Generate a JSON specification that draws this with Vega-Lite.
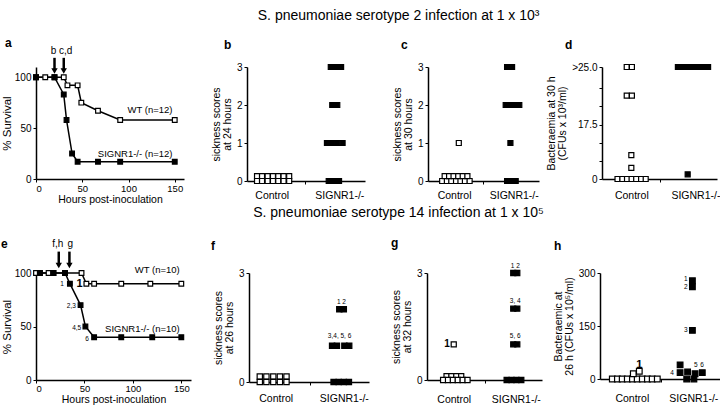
{
  "$schema": "https://vega.github.io/schema/vega-lite/v6.json",
  "background": "white",
  "padding": {"left": 1, "top": 8, "right": 0, "bottom": 0},
  "spacing": 1,
  "datasets": {
    "survA": [
      {"s": "WT", "x": 0, "y": 100}, {"s": "WT", "x": 10, "y": 100}, {"s": "WT", "x": 20, "y": 100}, {"s": "WT", "x": 30, "y": 100},
      {"s": "WT", "x": 34, "y": 92}, {"s": "WT", "x": 45, "y": 92}, {"s": "WT", "x": 49, "y": 75}, {"s": "WT", "x": 67, "y": 67},
      {"s": "WT", "x": 91, "y": 58}, {"s": "WT", "x": 150, "y": 58},
      {"s": "SIGNR1-/-", "x": 0, "y": 100}, {"s": "SIGNR1-/-", "x": 20, "y": 100}, {"s": "SIGNR1-/-", "x": 30, "y": 83},
      {"s": "SIGNR1-/-", "x": 33, "y": 58}, {"s": "SIGNR1-/-", "x": 39, "y": 25}, {"s": "SIGNR1-/-", "x": 45, "y": 17},
      {"s": "SIGNR1-/-", "x": 67, "y": 17}, {"s": "SIGNR1-/-", "x": 91, "y": 17}, {"s": "SIGNR1-/-", "x": 150, "y": 17}
    ],
    "survE": [
      {"s": "WT", "x": 0, "y": 100}, {"s": "WT", "x": 4, "y": 100}, {"s": "WT", "x": 13, "y": 100}, {"s": "WT", "x": 18, "y": 100},
      {"s": "WT", "x": 30, "y": 100}, {"s": "WT", "x": 47, "y": 100}, {"s": "WT", "x": 52, "y": 90}, {"s": "WT", "x": 60, "y": 90},
      {"s": "WT", "x": 88, "y": 90}, {"s": "WT", "x": 118, "y": 90}, {"s": "WT", "x": 150, "y": 90},
      {"s": "SIGNR1-/-", "x": 4, "y": 100}, {"s": "SIGNR1-/-", "x": 18, "y": 100}, {"s": "SIGNR1-/-", "x": 30, "y": 100},
      {"s": "SIGNR1-/-", "x": 35, "y": 90}, {"s": "SIGNR1-/-", "x": 46, "y": 70}, {"s": "SIGNR1-/-", "x": 51, "y": 50},
      {"s": "SIGNR1-/-", "x": 60, "y": 40}, {"s": "SIGNR1-/-", "x": 88, "y": 40}, {"s": "SIGNR1-/-", "x": 120, "y": 40},
      {"s": "SIGNR1-/-", "x": 150, "y": 40}
    ],
    "arrows": [
      {"p": "a", "x": 20, "y": 119, "y2": 106},
      {"p": "a", "x": 30, "y": 119, "y2": 106},
      {"p": "e", "x": 23.5, "y": 120, "y2": 107},
      {"p": "e", "x": 34.5, "y": 120, "y2": 107}
    ],
    "arrowLabels": [
      {"p": "a", "x": 19, "y": 121, "t": "b"},
      {"p": "a", "x": 32, "y": 121, "t": "c,d"},
      {"p": "e", "x": 22.5, "y": 122, "t": "f,h"},
      {"p": "e", "x": 35.5, "y": 122, "t": "g"}
    ],
    "notes": [
      {"p": "a", "k": "lab", "x": 147.6, "y": 67.6, "t": "WT (n=12)"},
      {"p": "a", "k": "lab", "x": 147.6, "y": 24.4, "t": "SIGNR1-/- (n=12)"},
      {"p": "e", "k": "lab", "x": 148.4, "y": 103, "t": "WT (n=10)"},
      {"p": "e", "k": "lab", "x": 148.4, "y": 48, "t": "SIGNR1-/- (n=10)"},
      {"p": "e", "k": "small", "x": 26.8, "y": 89.6, "t": "1"},
      {"p": "e", "k": "small", "x": 36.5, "y": 69.5, "t": "2,3"},
      {"p": "e", "k": "small", "x": 42, "y": 48.7, "t": "4,5"},
      {"p": "e", "k": "small", "x": 52.6, "y": 38.7, "t": "6"},
      {"p": "e", "k": "bold", "x": 45, "y": 90, "t": "1"},
      {"p": "f", "k": "small", "x": 3.08, "y": 2.2, "t": "1  2"},
      {"p": "f", "k": "small", "x": 3.02, "y": 1.26, "t": "3,4, 5, 6"},
      {"p": "g", "k": "small", "x": 3.07, "y": 3.19, "t": "1  2"},
      {"p": "g", "k": "small", "x": 3.07, "y": 2.22, "t": "3, 4"},
      {"p": "g", "k": "small", "x": 3.07, "y": 1.24, "t": "5, 6"},
      {"p": "g", "k": "bold", "x": 0.7, "y": 1.0, "t": "1"},
      {"p": "h", "k": "small", "x": 2.86, "y": 282, "t": "1"},
      {"p": "h", "k": "small", "x": 2.86, "y": 259, "t": "2"},
      {"p": "h", "k": "small", "x": 2.86, "y": 137.6, "t": "3"},
      {"p": "h", "k": "small", "x": 2.4, "y": 18, "t": "4"},
      {"p": "h", "k": "small", "x": 3.19, "y": 41, "t": "5"},
      {"p": "h", "k": "small", "x": 3.4, "y": 41, "t": "6"},
      {"p": "h", "k": "bold", "x": 1.31, "y": 39, "t": "1"}
    ],
    "pts": [
      {"p": "b", "s": "Control", "x": 0.34, "y": 0.13}, {"p": "b", "s": "Control", "x": 0.51, "y": 0.13}, {"p": "b", "s": "Control", "x": 0.7, "y": 0.13},
      {"p": "b", "s": "Control", "x": 0.88, "y": 0.13}, {"p": "b", "s": "Control", "x": 1.06, "y": 0.13}, {"p": "b", "s": "Control", "x": 1.24, "y": 0.13},
      {"p": "b", "s": "Control", "x": 1.43, "y": 0.13},
      {"p": "b", "s": "Control", "x": 0.34, "y": 0}, {"p": "b", "s": "Control", "x": 0.51, "y": 0}, {"p": "b", "s": "Control", "x": 0.7, "y": 0},
      {"p": "b", "s": "Control", "x": 0.88, "y": 0}, {"p": "b", "s": "Control", "x": 1.06, "y": 0}, {"p": "b", "s": "Control", "x": 1.24, "y": 0},
      {"p": "b", "s": "Control", "x": 1.43, "y": 0},
      {"p": "b", "s": "SIGNR1-/-", "x": 2.84, "y": 3}, {"p": "b", "s": "SIGNR1-/-", "x": 3.02, "y": 3}, {"p": "b", "s": "SIGNR1-/-", "x": 3.19, "y": 3},
      {"p": "b", "s": "SIGNR1-/-", "x": 2.89, "y": 2}, {"p": "b", "s": "SIGNR1-/-", "x": 3.06, "y": 2},
      {"p": "b", "s": "SIGNR1-/-", "x": 2.71, "y": 1}, {"p": "b", "s": "SIGNR1-/-", "x": 2.89, "y": 1}, {"p": "b", "s": "SIGNR1-/-", "x": 3.06, "y": 1},
      {"p": "b", "s": "SIGNR1-/-", "x": 3.24, "y": 1},
      {"p": "b", "s": "SIGNR1-/-", "x": 2.77, "y": 0}, {"p": "b", "s": "SIGNR1-/-", "x": 2.95, "y": 0}, {"p": "b", "s": "SIGNR1-/-", "x": 3.12, "y": 0},

      {"p": "c", "s": "Control", "x": 0.51, "y": 0}, {"p": "c", "s": "Control", "x": 0.68, "y": 0}, {"p": "c", "s": "Control", "x": 0.84, "y": 0},
      {"p": "c", "s": "Control", "x": 1.01, "y": 0}, {"p": "c", "s": "Control", "x": 1.17, "y": 0}, {"p": "c", "s": "Control", "x": 1.33, "y": 0},
      {"p": "c", "s": "Control", "x": 1.5, "y": 0},
      {"p": "c", "s": "Control", "x": 0.6, "y": 0.13}, {"p": "c", "s": "Control", "x": 0.76, "y": 0.13}, {"p": "c", "s": "Control", "x": 0.92, "y": 0.13},
      {"p": "c", "s": "Control", "x": 1.09, "y": 0.13}, {"p": "c", "s": "Control", "x": 1.25, "y": 0.13}, {"p": "c", "s": "Control", "x": 1.42, "y": 0.13},
      {"p": "c", "s": "Control", "x": 1.11, "y": 1},
      {"p": "c", "s": "SIGNR1-/-", "x": 2.85, "y": 3}, {"p": "c", "s": "SIGNR1-/-", "x": 3.03, "y": 3},
      {"p": "c", "s": "SIGNR1-/-", "x": 2.8, "y": 2}, {"p": "c", "s": "SIGNR1-/-", "x": 2.96, "y": 2}, {"p": "c", "s": "SIGNR1-/-", "x": 3.12, "y": 2},
      {"p": "c", "s": "SIGNR1-/-", "x": 3.29, "y": 2},
      {"p": "c", "s": "SIGNR1-/-", "x": 2.97, "y": 1},
      {"p": "c", "s": "SIGNR1-/-", "x": 2.85, "y": 0}, {"p": "c", "s": "SIGNR1-/-", "x": 3.01, "y": 0}, {"p": "c", "s": "SIGNR1-/-", "x": 3.16, "y": 0},

      {"p": "d", "s": "Control", "x": 0.86, "y": 36}, {"p": "d", "s": "Control", "x": 1.04, "y": 36},
      {"p": "d", "s": "Control", "x": 0.86, "y": 26.8}, {"p": "d", "s": "Control", "x": 1.04, "y": 26.8},
      {"p": "d", "s": "Control", "x": 1.02, "y": 7.7}, {"p": "d", "s": "Control", "x": 1.02, "y": 3.6},
      {"p": "d", "s": "Control", "x": 0.54, "y": 0}, {"p": "d", "s": "Control", "x": 0.71, "y": 0}, {"p": "d", "s": "Control", "x": 0.87, "y": 0},
      {"p": "d", "s": "Control", "x": 1.03, "y": 0}, {"p": "d", "s": "Control", "x": 1.19, "y": 0}, {"p": "d", "s": "Control", "x": 1.36, "y": 0},
      {"p": "d", "s": "Control", "x": 1.52, "y": 0},
      {"p": "d", "s": "SIGNR1-/-", "x": 2.64, "y": 36}, {"p": "d", "s": "SIGNR1-/-", "x": 2.81, "y": 36}, {"p": "d", "s": "SIGNR1-/-", "x": 2.99, "y": 36},
      {"p": "d", "s": "SIGNR1-/-", "x": 3.16, "y": 36}, {"p": "d", "s": "SIGNR1-/-", "x": 3.33, "y": 36}, {"p": "d", "s": "SIGNR1-/-", "x": 3.51, "y": 36},
      {"p": "d", "s": "SIGNR1-/-", "x": 3.69, "y": 36},
      {"p": "d", "s": "SIGNR1-/-", "x": 2.98, "y": 1.5},

      {"p": "f", "s": "Control", "x": 0.36, "y": 0.15}, {"p": "f", "s": "Control", "x": 0.58, "y": 0.15}, {"p": "f", "s": "Control", "x": 0.81, "y": 0.15},
      {"p": "f", "s": "Control", "x": 1.03, "y": 0.15}, {"p": "f", "s": "Control", "x": 1.25, "y": 0.15},
      {"p": "f", "s": "Control", "x": 0.36, "y": 0}, {"p": "f", "s": "Control", "x": 0.58, "y": 0}, {"p": "f", "s": "Control", "x": 0.81, "y": 0},
      {"p": "f", "s": "Control", "x": 1.03, "y": 0}, {"p": "f", "s": "Control", "x": 1.25, "y": 0},
      {"p": "f", "s": "SIGNR1-/-", "x": 3.01, "y": 2}, {"p": "f", "s": "SIGNR1-/-", "x": 3.16, "y": 2},
      {"p": "f", "s": "SIGNR1-/-", "x": 2.77, "y": 1}, {"p": "f", "s": "SIGNR1-/-", "x": 2.93, "y": 1}, {"p": "f", "s": "SIGNR1-/-", "x": 3.18, "y": 1},
      {"p": "f", "s": "SIGNR1-/-", "x": 3.34, "y": 1},
      {"p": "f", "s": "SIGNR1-/-", "x": 2.82, "y": 0}, {"p": "f", "s": "SIGNR1-/-", "x": 2.99, "y": 0}, {"p": "f", "s": "SIGNR1-/-", "x": 3.16, "y": 0},
      {"p": "f", "s": "SIGNR1-/-", "x": 3.33, "y": 0},

      {"p": "g", "s": "Control", "x": 0.93, "y": 1},
      {"p": "g", "s": "Control", "x": 0.68, "y": 0.11}, {"p": "g", "s": "Control", "x": 0.85, "y": 0.11}, {"p": "g", "s": "Control", "x": 1.02, "y": 0.11},
      {"p": "g", "s": "Control", "x": 1.19, "y": 0.11},
      {"p": "g", "s": "Control", "x": 0.56, "y": 0}, {"p": "g", "s": "Control", "x": 0.73, "y": 0}, {"p": "g", "s": "Control", "x": 0.9, "y": 0},
      {"p": "g", "s": "Control", "x": 1.07, "y": 0}, {"p": "g", "s": "Control", "x": 1.24, "y": 0}, {"p": "g", "s": "Control", "x": 1.41, "y": 0},
      {"p": "g", "s": "SIGNR1-/-", "x": 3.0, "y": 3}, {"p": "g", "s": "SIGNR1-/-", "x": 3.14, "y": 3},
      {"p": "g", "s": "SIGNR1-/-", "x": 3.0, "y": 2}, {"p": "g", "s": "SIGNR1-/-", "x": 3.14, "y": 2},
      {"p": "g", "s": "SIGNR1-/-", "x": 3.0, "y": 1}, {"p": "g", "s": "SIGNR1-/-", "x": 3.14, "y": 1},
      {"p": "g", "s": "SIGNR1-/-", "x": 2.77, "y": 0}, {"p": "g", "s": "SIGNR1-/-", "x": 2.94, "y": 0}, {"p": "g", "s": "SIGNR1-/-", "x": 3.11, "y": 0},
      {"p": "g", "s": "SIGNR1-/-", "x": 3.28, "y": 0},

      {"p": "h", "s": "Control", "x": 0.41, "y": 0}, {"p": "h", "s": "Control", "x": 0.58, "y": 0}, {"p": "h", "s": "Control", "x": 0.74, "y": 0},
      {"p": "h", "s": "Control", "x": 0.91, "y": 0}, {"p": "h", "s": "Control", "x": 1.08, "y": 0}, {"p": "h", "s": "Control", "x": 1.24, "y": 0},
      {"p": "h", "s": "Control", "x": 1.41, "y": 0}, {"p": "h", "s": "Control", "x": 1.58, "y": 0}, {"p": "h", "s": "Control", "x": 1.74, "y": 0},
      {"p": "h", "s": "Control", "x": 1.91, "y": 0},
      {"p": "h", "s": "Control", "x": 1.11, "y": 15}, {"p": "h", "s": "Control", "x": 1.31, "y": 22},
      {"p": "h", "s": "SIGNR1-/-", "x": 3.08, "y": 278}, {"p": "h", "s": "SIGNR1-/-", "x": 3.08, "y": 261}, {"p": "h", "s": "SIGNR1-/-", "x": 3.08, "y": 137.6},
      {"p": "h", "s": "SIGNR1-/-", "x": 2.67, "y": 40}, {"p": "h", "s": "SIGNR1-/-", "x": 2.67, "y": 18}, {"p": "h", "s": "SIGNR1-/-", "x": 2.92, "y": 20},
      {"p": "h", "s": "SIGNR1-/-", "x": 3.17, "y": 15}, {"p": "h", "s": "SIGNR1-/-", "x": 3.41, "y": 18},
      {"p": "h", "s": "SIGNR1-/-", "x": 2.89, "y": 0}, {"p": "h", "s": "SIGNR1-/-", "x": 3.13, "y": 0}
    ]
  },
  "vconcat": [
    {
      "title": {"text": "S. pneumoniae serotype 2 infection at 1 x 10³", "fontSize": 14, "fontWeight": "normal", "anchor": "middle", "dx": 38, "offset": 14},
      "bounds": "flush",
      "spacing": 63,
      "resolve": {"scale": {"x": "independent", "y": "independent"}},
      "hconcat": [
        {
          "width": 148, "height": 112,
          "title": {"text": "a", "anchor": "start", "frame": "group", "dx": -31, "dy": -4, "offset": -8, "fontSize": 12, "fontWeight": "bold"},
          "layer": [
            {"data": {"name": "survA"}, "mark": {"type": "line", "color": "black", "strokeWidth": 1.5},
             "encoding": {
               "x": {"field": "x", "type": "quantitative", "scale": {"domain": [0, 150]}, "axis": {"values": [0, 50, 100, 150], "title": "Hours post-inoculation", "labelFontSize": 9.5, "labelPadding": 1, "titlePadding": 2}},
               "y": {"field": "y", "type": "quantitative", "scale": {"domain": [0, 103.7]}, "axis": {"values": [0, 50, 100], "title": "% Survival", "titleFontSize": 11.5, "titlePadding": 2}},
               "detail": {"field": "s"}}},
            {"data": {"name": "survA"}, "mark": {"type": "point", "shape": "square", "filled": true, "size": 22, "stroke": "black", "strokeWidth": 1.2, "opacity": 1},
             "encoding": {
               "x": {"field": "x", "type": "quantitative"}, "y": {"field": "y", "type": "quantitative"},
               "fill": {"field": "s", "type": "nominal", "scale": {"domain": ["WT", "Control", "SIGNR1-/-"], "range": ["white", "white", "black"]}, "legend": null}}},
            {"data": {"name": "notes"}, "transform": [{"filter": "datum.p == 'a'"}], "mark": {"type": "text", "align": "right", "baseline": "middle", "fontSize": 9.5},
             "encoding": {"x": {"field": "x", "type": "quantitative"}, "y": {"field": "y", "type": "quantitative"}, "text": {"field": "t"}}},
            {"data": {"name": "arrows"}, "transform": [{"filter": "datum.p == 'a'"}], "mark": {"type": "rule", "color": "black", "strokeWidth": 2.5},
             "encoding": {"x": {"field": "x", "type": "quantitative"}, "y": {"field": "y", "type": "quantitative"}, "y2": {"field": "y2"}}},
            {"data": {"name": "arrows"}, "transform": [{"filter": "datum.p == 'a'"}], "mark": {"type": "point", "shape": "triangle-down", "filled": true, "color": "black", "size": 40, "opacity": 1},
             "encoding": {"x": {"field": "x", "type": "quantitative"}, "y": {"field": "y2", "type": "quantitative"}}},
            {"data": {"name": "arrowLabels"}, "transform": [{"filter": "datum.p == 'a'"}], "mark": {"type": "text", "baseline": "bottom", "fontSize": 10},
             "encoding": {"x": {"field": "x", "type": "quantitative"}, "y": {"field": "y", "type": "quantitative"}, "text": {"field": "t"}}}
          ]
        },
        {
          "width": 118, "height": 114,
          "title": {"text": "b", "anchor": "start", "frame": "group", "dx": -23, "offset": 10, "fontSize": 12, "fontWeight": "bold"},
          "data": {"name": "pts"},
          "transform": [{"filter": "datum.p == 'b'"}],
          "mark": {"type": "point", "shape": "square", "filled": true, "size": 25, "stroke": "black", "strokeWidth": 1.2, "opacity": 1},
          "encoding": {
            "x": {"field": "x", "type": "quantitative", "scale": {"domain": [0, 4]}, "axis": {"values": [0.84, 1.95, 3.13], "labelExpr": "datum.value < 1.5 ? 'Control' : datum.value > 2.5 ? 'SIGNR1-/-' : ''", "title": null, "labelPadding": 6, "labelFontSize": 10.5, "tickOpacity": {"condition": {"test": "datum.value < 1.5 || datum.value > 2.5", "value": 0}, "value": 1}}},
            "y": {"field": "y", "type": "quantitative", "scale": {"domain": [0, 3]}, "axis": {"values": [0, 1, 2, 3], "title": ["sickness scores", "at 24 hours"]}},
            "fill": {"field": "s", "type": "nominal", "scale": {"domain": ["WT", "Control", "SIGNR1-/-"], "range": ["white", "white", "black"]}, "legend": null}
          }
        },
        {
          "width": 111, "height": 114,
          "title": {"text": "c", "anchor": "start", "frame": "group", "dx": -27, "offset": 10, "fontSize": 12, "fontWeight": "bold"},
          "data": {"name": "pts"},
          "transform": [{"filter": "datum.p == 'c'"}],
          "mark": {"type": "point", "shape": "square", "filled": true, "size": 25, "stroke": "black", "strokeWidth": 1.2, "opacity": 1},
          "encoding": {
            "x": {"field": "x", "type": "quantitative", "scale": {"domain": [0, 4]}, "axis": {"values": [0.94, 1.98, 3.09], "labelExpr": "datum.value < 1.5 ? 'Control' : datum.value > 2.5 ? 'SIGNR1-/-' : ''", "title": null, "labelPadding": 6, "labelFontSize": 10.5, "tickOpacity": {"condition": {"test": "datum.value < 1.5 || datum.value > 2.5", "value": 0}, "value": 1}}},
            "y": {"field": "y", "type": "quantitative", "scale": {"domain": [0, 3]}, "axis": {"values": [0, 1, 2, 3], "title": ["sickness scores", "at 30 hours"]}},
            "fill": {"field": "s", "type": "nominal", "scale": {"domain": ["WT", "Control", "SIGNR1-/-"], "range": ["white", "white", "black"]}, "legend": null}
          }
        },
        {
          "width": 115, "height": 112,
          "title": {"text": "d", "anchor": "start", "frame": "group", "dx": -37, "offset": 10, "fontSize": 12, "fontWeight": "bold"},
          "data": {"name": "pts"},
          "transform": [{"filter": "datum.p == 'd'"}],
          "mark": {"type": "point", "shape": "square", "filled": true, "size": 25, "stroke": "black", "strokeWidth": 1.2, "opacity": 1},
          "encoding": {
            "x": {"field": "x", "type": "quantitative", "scale": {"domain": [0, 4]}, "axis": {"values": [1.02, 2.03, 3.25], "labelExpr": "datum.value < 1.5 ? 'Control' : datum.value > 2.5 ? 'SIGNR1-/-' : ''", "title": null, "labelPadding": 8, "labelFontSize": 10.5, "tickOpacity": {"condition": {"test": "datum.value < 1.5 || datum.value > 2.5", "value": 0}, "value": 1}}},
            "y": {"field": "y", "type": "quantitative", "scale": {"domain": [0, 36]}, "axis": {"values": [0, 5.83, 11.67, 17.5, 23.33, 29.17, 36], "labelExpr": "datum.value == 0 ? '0' : datum.value == 17.5 ? '17.5' : datum.value == 36 ? '>25.0' : ''", "title": ["Bacteraemia at 30 h", "(CFUs x 10³/ml)"]}},
            "fill": {"field": "s", "type": "nominal", "scale": {"domain": ["WT", "Control", "SIGNR1-/-"], "range": ["white", "white", "black"]}, "legend": null}
          }
        }
      ]
    },
    {
      "title": {"text": "S. pneumoniae serotype 14 infection at 1 x 10⁵", "fontSize": 14, "fontWeight": "normal", "anchor": "middle", "dx": 38, "offset": 17},
      "bounds": "flush",
      "spacing": 58,
      "resolve": {"scale": {"x": "independent", "y": "independent"}},
      "hconcat": [
        {
          "width": 155, "height": 107,
          "title": {"text": "e", "anchor": "start", "frame": "group", "dx": -35, "offset": -12, "fontSize": 12, "fontWeight": "bold"},
          "layer": [
            {"data": {"name": "survE"}, "mark": {"type": "line", "color": "black", "strokeWidth": 1.5},
             "encoding": {
               "x": {"field": "x", "type": "quantitative", "scale": {"domain": [0, 150]}, "axis": {"values": [0, 50, 100, 150], "title": "Hours post-inoculation", "labelFontSize": 9.5, "labelPadding": 0, "titlePadding": 2}},
               "y": {"field": "y", "type": "quantitative", "scale": {"domain": [0, 100]}, "axis": {"values": [0, 50, 100], "title": "% Survival", "titleFontSize": 11.5, "titlePadding": 2}},
               "detail": {"field": "s"}}},
            {"data": {"name": "survE"}, "mark": {"type": "point", "shape": "square", "filled": true, "size": 22, "stroke": "black", "strokeWidth": 1.2, "opacity": 1},
             "encoding": {
               "x": {"field": "x", "type": "quantitative"}, "y": {"field": "y", "type": "quantitative"},
               "fill": {"field": "s", "type": "nominal", "scale": {"domain": ["WT", "Control", "SIGNR1-/-"], "range": ["white", "white", "black"]}, "legend": null}}},
            {"data": {"name": "notes"}, "transform": [{"filter": "datum.p == 'e' && datum.k == 'lab'"}], "mark": {"type": "text", "align": "right", "baseline": "middle", "fontSize": 9.5},
             "encoding": {"x": {"field": "x", "type": "quantitative"}, "y": {"field": "y", "type": "quantitative"}, "text": {"field": "t"}}},
            {"data": {"name": "notes"}, "transform": [{"filter": "datum.p == 'e' && datum.k == 'small'"}], "mark": {"type": "text", "align": "center", "baseline": "middle", "fontSize": 6.5},
             "encoding": {"x": {"field": "x", "type": "quantitative"}, "y": {"field": "y", "type": "quantitative"}, "text": {"field": "t"}}},
            {"data": {"name": "notes"}, "transform": [{"filter": "datum.p == 'e' && datum.k == 'bold'"}], "mark": {"type": "text", "align": "center", "baseline": "middle", "fontSize": 11, "fontWeight": "bold"},
             "encoding": {"x": {"field": "x", "type": "quantitative"}, "y": {"field": "y", "type": "quantitative"}, "text": {"field": "t"}}},
            {"data": {"name": "arrows"}, "transform": [{"filter": "datum.p == 'e'"}], "mark": {"type": "rule", "color": "black", "strokeWidth": 2.5},
             "encoding": {"x": {"field": "x", "type": "quantitative"}, "y": {"field": "y", "type": "quantitative"}, "y2": {"field": "y2"}}},
            {"data": {"name": "arrows"}, "transform": [{"filter": "datum.p == 'e'"}], "mark": {"type": "point", "shape": "triangle-down", "filled": true, "color": "black", "size": 40, "opacity": 1},
             "encoding": {"x": {"field": "x", "type": "quantitative"}, "y": {"field": "y2", "type": "quantitative"}}},
            {"data": {"name": "arrowLabels"}, "transform": [{"filter": "datum.p == 'e'"}], "mark": {"type": "text", "baseline": "bottom", "fontSize": 10},
             "encoding": {"x": {"field": "x", "type": "quantitative"}, "y": {"field": "y", "type": "quantitative"}, "text": {"field": "t"}}}
          ]
        },
        {
          "width": 120, "height": 109,
          "title": {"text": "f", "anchor": "start", "frame": "group", "dx": -38, "offset": 15, "fontSize": 12, "fontWeight": "bold"},
          "layer": [
            {"data": {"name": "pts"}, "transform": [{"filter": "datum.p == 'f'"}],
             "mark": {"type": "point", "shape": "square", "filled": true, "size": 28, "stroke": "black", "strokeWidth": 1.2, "opacity": 1},
             "encoding": {
               "x": {"field": "x", "type": "quantitative", "scale": {"domain": [0, 4]}, "axis": {"values": [0.89, 2.02, 3.16], "labelExpr": "datum.value < 1.5 ? 'Control' : datum.value > 2.5 ? 'SIGNR1-/-' : ''", "title": null, "labelPadding": 8, "labelFontSize": 10.5, "tickOpacity": {"condition": {"test": "datum.value < 1.5 || datum.value > 2.5", "value": 0}, "value": 1}}},
               "y": {"field": "y", "type": "quantitative", "scale": {"domain": [0, 3]}, "axis": {"values": [0, 1, 2, 3], "title": ["sickness scores", "at 26 hours"]}},
               "fill": {"field": "s", "type": "nominal", "scale": {"domain": ["WT", "Control", "SIGNR1-/-"], "range": ["white", "white", "black"]}, "legend": null}}},
            {"data": {"name": "notes"}, "transform": [{"filter": "datum.p == 'f'"}], "mark": {"type": "text", "align": "center", "baseline": "middle", "fontSize": 6.5},
             "encoding": {"x": {"field": "x", "type": "quantitative"}, "y": {"field": "y", "type": "quantitative"}, "text": {"field": "t"}}}
          ]
        },
        {
          "width": 115, "height": 107,
          "title": {"text": "g", "anchor": "start", "frame": "group", "dx": -36, "offset": 13, "fontSize": 12, "fontWeight": "bold"},
          "layer": [
            {"data": {"name": "pts"}, "transform": [{"filter": "datum.p == 'g'"}],
             "mark": {"type": "point", "shape": "square", "filled": true, "size": 26, "stroke": "black", "strokeWidth": 1.2, "opacity": 1},
             "encoding": {
               "x": {"field": "x", "type": "quantitative", "scale": {"domain": [0, 4]}, "axis": {"values": [0.93, 2.0, 3.09], "labelExpr": "datum.value < 1.5 ? 'Control' : datum.value > 2.5 ? 'SIGNR1-/-' : ''", "title": null, "labelPadding": 11, "labelFontSize": 10.5, "tickOpacity": {"condition": {"test": "datum.value < 1.5 || datum.value > 2.5", "value": 0}, "value": 1}}},
               "y": {"field": "y", "type": "quantitative", "scale": {"domain": [0, 3]}, "axis": {"values": [0, 1, 2, 3], "title": ["sickness scores", "at 32 hours"]}},
               "fill": {"field": "s", "type": "nominal", "scale": {"domain": ["WT", "Control", "SIGNR1-/-"], "range": ["white", "white", "black"]}, "legend": null}}},
            {"data": {"name": "notes"}, "transform": [{"filter": "datum.p == 'g' && datum.k == 'small'"}], "mark": {"type": "text", "align": "center", "baseline": "middle", "fontSize": 6.5},
             "encoding": {"x": {"field": "x", "type": "quantitative"}, "y": {"field": "y", "type": "quantitative"}, "text": {"field": "t"}}},
            {"data": {"name": "notes"}, "transform": [{"filter": "datum.p == 'g' && datum.k == 'bold'"}], "mark": {"type": "text", "align": "center", "baseline": "middle", "fontSize": 10, "fontWeight": "bold"},
             "encoding": {"x": {"field": "x", "type": "quantitative"}, "y": {"field": "y", "type": "quantitative"}, "text": {"field": "t"}}}
          ]
        },
        {
          "width": 120, "height": 106,
          "title": {"text": "h", "anchor": "start", "frame": "group", "dx": -46, "offset": 15, "fontSize": 12, "fontWeight": "bold"},
          "layer": [
            {"data": {"name": "pts"}, "transform": [{"filter": "datum.p == 'h'"}],
             "mark": {"type": "point", "shape": "square", "filled": true, "size": 32, "stroke": "black", "strokeWidth": 1.2, "opacity": 1},
             "encoding": {
               "x": {"field": "x", "type": "quantitative", "scale": {"domain": [0, 4]}, "axis": {"values": [1.06, 2.05, 3.11], "labelExpr": "datum.value < 1.5 ? 'Control' : datum.value > 2.5 ? 'SIGNR1-/-' : ''", "title": null, "labelPadding": 11, "labelFontSize": 10.5, "tickOpacity": {"condition": {"test": "datum.value < 1.5 || datum.value > 2.5", "value": 0}, "value": 1}}},
               "y": {"field": "y", "type": "quantitative", "scale": {"domain": [0, 300]}, "axis": {"values": [0, 75, 150, 225, 300], "labelExpr": "datum.value % 150 == 0 ? datum.label : ''", "title": ["Bacteraemic at", "26 h (CFUs x 10⁵/ml)"]}},
               "fill": {"field": "s", "type": "nominal", "scale": {"domain": ["WT", "Control", "SIGNR1-/-"], "range": ["white", "white", "black"]}, "legend": null}}},
            {"data": {"name": "notes"}, "transform": [{"filter": "datum.p == 'h' && datum.k == 'small'"}], "mark": {"type": "text", "align": "center", "baseline": "middle", "fontSize": 6.5},
             "encoding": {"x": {"field": "x", "type": "quantitative"}, "y": {"field": "y", "type": "quantitative"}, "text": {"field": "t"}}},
            {"data": {"name": "notes"}, "transform": [{"filter": "datum.p == 'h' && datum.k == 'bold'"}], "mark": {"type": "text", "align": "center", "baseline": "middle", "fontSize": 11, "fontWeight": "bold"},
             "encoding": {"x": {"field": "x", "type": "quantitative"}, "y": {"field": "y", "type": "quantitative"}, "text": {"field": "t"}}}
          ]
        }
      ]
    }
  ],
  "config": {
    "font": "Liberation Sans",
    "view": {"stroke": null},
    "axis": {"grid": false, "domainColor": "black", "domainWidth": 1.5, "tickColor": "black", "tickWidth": 1, "tickSize": 3,
             "labelColor": "black", "labelFontSize": 10, "titleColor": "black", "titleFontSize": 10.5, "titleFontWeight": "normal",
             "labelPadding": 2, "titlePadding": 4, "titleLineHeight": 11, "labelOverlap": false},
    "title": {"color": "black"}
  }
}
